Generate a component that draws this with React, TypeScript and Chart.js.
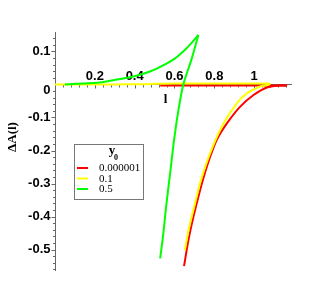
import React, { useEffect, useRef } from "react";
import { Chart, registerables } from "chart.js";

Chart.register(...registerables);

// ---- data ----
const redLowerL = [0.648, 0.67, 0.695, 0.72, 0.745, 0.779, 0.812, 0.863, 0.93, 0.997, 1.064, 1.131, 1.165];
const redLowerA = [-0.55, -0.471, -0.401, -0.34, -0.284, -0.219, -0.168, -0.118, -0.067, -0.032, -0.009, -0.003, -0.003];
const redUpperL = [1.165, 0.9, 0.528];
const redUpperA = [-0.003, -0.003, -0.003];

const yellowLowerL = [0.652, 0.671, 0.703, 0.733, 0.784, 0.846, 0.913, 0.963, 1.03, 1.072, 1.08];
const yellowLowerA = [-0.502, -0.44, -0.36, -0.289, -0.2, -0.118, -0.057, -0.027, -0.006, -0.001, 0.003];
const yellowUpperL = [1.08, 1.0, 0.8, 0.6, 0.45, 0.3, 0];
const yellowUpperA = [0.003, 0.003, 0.003, 0.003, 0.001, 0, 0];

const greenUpperL = [0.05, 0.1, 0.226, 0.31, 0.394, 0.48, 0.553, 0.603, 0.653, 0.687, 0.72];
const greenUpperA = [0, 0.002, 0.006, 0.015, 0.024, 0.04, 0.061, 0.079, 0.105, 0.127, 0.15];
const greenLowerL = [0.72, 0.687, 0.645, 0.62, 0.598, 0.578, 0.558, 0.544, 0.528];
const greenLowerA = [0.15, 0.079, 0.0015, -0.077, -0.168, -0.269, -0.37, -0.451, -0.527];

const legendLabels = ["0.000001", "0.1", "0.5"];
const xTickLabels = [0.2, 0.4, 0.6, 0.8, 1];
const yTickLabels = [0.1, 0, -0.1, -0.2, -0.3, -0.4, -0.5];
const xAxisTitle = "l";
const yAxisTitle = "\u0394A(l)";
const legendTitle = "y";
const legendTitleSub = "0";

const X_MIN = 0, X_MAX = 1.19, Y_MIN = -0.565, Y_MAX = 0.159;
const X_MINOR = 0.04, Y_MINOR = 0.02;

const RED = "#ff0000", YELLOW = "#ffff00", GREEN = "#00ff00";
const seriesColors = [RED, YELLOW, GREEN];
const AXIS_COLOR = "#666666";

const pts = (l: number[], a: number[]) => l.map((v, i) => ({ x: v, y: a[i] }));

const fmt = (v: number) => (v === 0 ? "0" : String(v));

const axesPlugin = {
  id: "mapleAxes",
  beforeDatasetsDraw(chart: any) {
    const { ctx, chartArea, scales } = chart;
    const xs = scales.x, ys = scales.y;
    const x0 = Math.round(xs.getPixelForValue(0)) + 0.5;
    const y0 = Math.round(ys.getPixelForValue(0)) + 0.5;
    ctx.save();
    ctx.strokeStyle = AXIS_COLOR;
    ctx.lineWidth = 1;
    ctx.beginPath();
    ctx.moveTo(chartArea.left, y0);
    ctx.lineTo(chartArea.right, y0);
    ctx.moveTo(x0, chartArea.top);
    ctx.lineTo(x0, chartArea.bottom);
    for (let i = 1; i * X_MINOR <= X_MAX; i++) {
      const v = i * X_MINOR;
      const px = Math.round(xs.getPixelForValue(v)) + 0.5;
      const major = i % 5 === 0;
      ctx.moveTo(px, y0);
      ctx.lineTo(px, y0 + (major ? 4 : 3));
    }
    for (let i = Math.ceil(Y_MIN / Y_MINOR); i * Y_MINOR <= Y_MAX; i++) {
      if (i === 0) continue;
      const v = i * Y_MINOR;
      const py = Math.round(ys.getPixelForValue(v)) + 0.5;
      const major = i % 5 === 0;
      ctx.moveTo(x0, py);
      ctx.lineTo(x0 - (major ? 4 : 2.5), py);
    }
    ctx.stroke();

    ctx.fillStyle = "#000";
    ctx.font = "bold 13px 'Liberation Sans', Arial, sans-serif";
    ctx.textAlign = "center";
    ctx.textBaseline = "middle";
    xTickLabels.forEach((v) => {
      ctx.fillText(fmt(v), xs.getPixelForValue(v), y0 - 8.5);
    });
    ctx.textAlign = "right";
    yTickLabels.forEach((v) => {
      const py = ys.getPixelForValue(v) + (v === 0 ? 6 : 0);
      ctx.fillText(fmt(v), x0 - 5, py);
    });
    ctx.restore();
  },
  afterDraw(chart: any) {
    const { ctx, scales, data } = chart;
    const xs = scales.x, ys = scales.y;
    ctx.save();
    ctx.fillStyle = "#000";
    ctx.font = "bold 13px 'Liberation Serif', 'Times New Roman', serif";
    ctx.textAlign = "center";
    ctx.textBaseline = "middle";
    ctx.fillText(xAxisTitle, xs.getPixelForValue(0.555), ys.getPixelForValue(0) + 15.5);
    ctx.save();
    ctx.translate(5, 129);
    ctx.rotate(-Math.PI / 2);
    ctx.fillText(yAxisTitle, 0, 0);
    ctx.restore();

    const bx = 66, by = 136, bw = 69, bh = 55;
    ctx.strokeStyle = "#777";
    ctx.lineWidth = 1;
    ctx.strokeRect(bx + 0.5, by + 0.5, bw, bh);
    ctx.font = "bold 13px 'Liberation Serif', 'Times New Roman', serif";
    ctx.textAlign = "center";
    ctx.textBaseline = "alphabetic";
    ctx.fillText(legendTitle, 104, 146);
    ctx.font = "bold 8px 'Liberation Serif', 'Times New Roman', serif";
    ctx.fillText(legendTitleSub, 108, 152);

    ctx.font = "11px 'Liberation Serif', 'Times New Roman', serif";
    ctx.textAlign = "left";
    ctx.textBaseline = "middle";
    const rows = [160, 170.5, 181];
    legendLabels.forEach((lab, i) => {
      const ds = data.datasets[i * 2];
      ctx.strokeStyle = ds.borderColor;
      ctx.lineWidth = 2;
      ctx.beginPath();
      ctx.moveTo(69, rows[i]);
      ctx.lineTo(80, rows[i]);
      ctx.stroke();
      ctx.fillStyle = "#000";
      ctx.fillText(lab, 91, rows[i] + 0.5);
    });
    ctx.restore();
  },
};

export default function App() {
  const ref = useRef<HTMLCanvasElement | null>(null);
  useEffect(() => {
    if (!ref.current) return;
    const mk = (label: string, l: number[], a: number[], color: string, order: number) => ({
      label,
      data: pts(l, a),
      borderColor: color,
      backgroundColor: color,
      borderWidth: 2,
      pointRadius: 0,
      showLine: true,
      tension: 0.3,
      fill: false,
      order,
    });
    const chart = new Chart(ref.current, {
      type: "scatter",
      data: {
        datasets: [
          mk(legendLabels[0], redLowerL, redLowerA, seriesColors[0], 2),
          mk(legendLabels[0], redUpperL, redUpperA, seriesColors[0], 2),
          mk(legendLabels[1], yellowLowerL, yellowLowerA, seriesColors[1], 1),
          mk(legendLabels[1], yellowUpperL, yellowUpperA, seriesColors[1], 1),
          mk(legendLabels[2], greenUpperL, greenUpperA, seriesColors[2], 0),
          mk(legendLabels[2], greenLowerL, greenLowerA, seriesColors[2], 0),
        ],
      },
      options: {
        responsive: false,
        animation: false,
        layout: { padding: { left: 47, right: 15, top: 24, bottom: 16 } },
        plugins: { legend: { display: false }, tooltip: { enabled: false } },
        scales: {
          x: { type: "linear", min: X_MIN, max: X_MAX, display: false },
          y: { type: "linear", min: Y_MIN, max: Y_MAX, display: false },
        },
      },
      plugins: [axesPlugin],
    });
    return () => chart.destroy();
  }, []);
  return <canvas ref={ref} width={299} height={279} style={{ display: "block" }} />;
}
